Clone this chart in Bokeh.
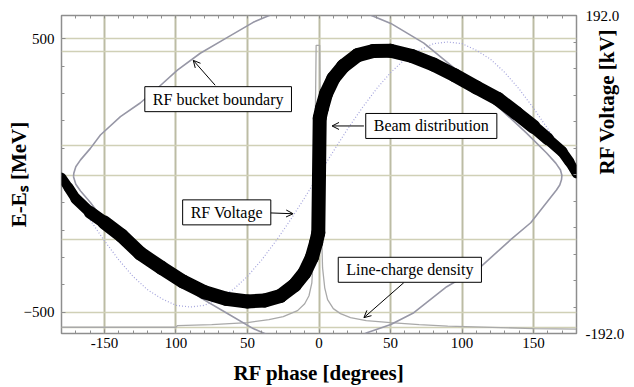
import math

from bokeh.embed import file_html
from bokeh.models import (Arrow, FixedTicker, Label, LinearAxis, OpenHead,
                          Range1d)
from bokeh.plotting import figure
from bokeh.resources import INLINE

# ---- axis ticks -------------------------------------------------------------
phase_ticks = [-150, -100, -50, 0, 50, 100, 150]
phase_tick_labels = ["-150", "100", "50", "0", "50", "100", "150"]
phase_minor = [-170, -160, -140, -130, -120, -110, -90, -80, -70, -60, -40, -30,
               -20, -10, 10, 20, 30, 40, 60, 70, 80, 90, 110, 120, 130, 140, 160, 170]
energy_ticks = [-500, 500]
energy_minor = [-400, -300, -200, -100, 100, 200, 300, 400]
energy_grid = [500, 453, 109, 0, -235, -500, -555]
voltage_ticks = [-192.0, 192.0]
voltage_minor = [-160, -128, -96, -64, -32, 0, 32, 64, 96, 128, 160]

# ---- beam distribution (centre of the particle band), deg / MeV -------------
beam_phase = [-180, -175, -170, -160, -150, -138, -125, -110, -95, -80, -65, -50,
              -38, -27, -17, -10, -5, -2, -0.5, 0, 0.5, 2, 5, 10, 17, 27, 38, 50,
              65, 80, 95, 110, 125, 138, 150, 160, 170, 175, 180]
beam_energy = [-7, -45, -85, -135, -172, -220, -285, -338, -388, -427, -451, -461,
               -457, -441, -401, -355, -300, -245, -210, 0, 210, 245, 300, 355,
               400, 440, 455, 456, 437, 406, 366, 322, 280, 228, 178, 133, 87, 50, 7]

# ---- RF bucket boundary (separatrix), deg / MeV -----------------------------
bucket_phase = [-171.6, -171.4, -170.0, -166.7, -159.8, -152.8, -138.8, -125, -113,
                -99, -83, -64, -46, -34, -20, 0, 20, 36.3, 50.2, 73.3, 96.3, 120,
                145.1, 159.1, 165.5, 168.8, 169.8, 169.5, 168.3, 166, 148, 134, 113,
                89.3, 66.3, 50.2, 33.5, 20, 0, -20, -34, -46, -64, -83, -99, -113,
                -125, -138.8, -152.8, -159.8, -166.7, -170.0, -171.4, -171.6]
bucket_energy = [-5, 8, 32, 57, 99, 148, 215, 265, 319, 385, 447, 505, 560, 587,
                 625, 650, 625, 586, 556, 484, 385, 276, 155, 82, 45, 20, 0, -16,
                 -35, -53, -173, -235, -334, -407, -502, -545, -575, -610, -640,
                 -625, -587, -560, -505, -447, -385, -319, -265, -215, -148, -99,
                 -57, -32, -8, -5]

# ---- RF voltage, deg / kV ---------------------------------------------------
rf_phase = [-180, -170, -160, -150, -140, -130, -120, -110, -100, -90, -80, -70,
            -60, -50, -40, -30, -20, -10, 0, 10, 20, 30, 40, 50, 60, 70, 80, 90,
            100, 110, 120, 130, 140, 150, 160, 170, 180]
rf_voltage = [0, -28, -55, -80, -103, -123, -139, -150, -158, -160, -158, -150,
              -139, -123, -103, -80, -55, -28, 0, 28, 55, 80, 103, 123, 139, 150,
              158, 160, 158, 150, 139, 123, 103, 80, 55, 28, 0]

# ---- line-charge density, deg / arb. units ----------------------------------
density_phase = [-180, -100, -99, -75, -50, -35, -25, -15, -10, -7, -5, -4, -3,
                 -2.5, -2, 0.5, 1, 1.5, 2.5, 4, 6, 10, 15, 22, 33, 50, 70, 90,
                 115, 150, 180]
density_value = [0.3, 0.3, 2, 3, 5, 8, 11, 17, 24, 32, 45, 70, 120, 220, 284, 284,
                 200, 110, 60, 40, 28, 19, 14, 10, 7, 5, 3, 1.5, 0.5, -1, -1.5]

SERIF = "Liberation Serif"
FRAME = "#8e8e8e"

p = figure(width=634, height=387, output_backend="svg", toolbar_location=None,
           x_range=Range1d(-180, 180), y_range=Range1d(-578, 585),
           x_axis_location=None, y_axis_location=None,
           min_border_left=61, min_border_right=57, min_border_top=15,
           min_border_bottom=53)
p.extra_y_ranges = {"kv": Range1d(-192, 192), "density": Range1d(-6, 314)}
p.background_fill_color = "white"
p.border_fill_color = "white"
p.outline_line_color = FRAME
p.outline_line_width = 1.5


def style_axis(ax):
    ax.axis_line_color = None
    ax.major_tick_in = 4
    ax.major_tick_out = 0
    ax.minor_tick_in = 3
    ax.minor_tick_out = 0
    ax.major_tick_line_color = FRAME
    ax.minor_tick_line_color = FRAME
    ax.major_label_text_font = SERIF
    ax.major_label_text_font_size = "15px"
    ax.major_label_text_color = "black"
    ax.axis_label_text_font = SERIF
    ax.axis_label_text_font_style = "bold"
    ax.axis_label_text_font_size = "21px"
    ax.axis_label_text_color = "black"


bottom = LinearAxis(ticker=FixedTicker(ticks=phase_ticks, minor_ticks=phase_minor),
                    axis_label="RF phase [degrees]")
style_axis(bottom)
bottom.major_label_overrides = dict(zip(phase_ticks, phase_tick_labels))
bottom.major_label_standoff = 4
bottom.axis_label_standoff = 10
p.add_layout(bottom, "below")

# top edge: inward ticks only
top = LinearAxis(ticker=FixedTicker(ticks=[], minor_ticks=phase_minor + phase_ticks))
style_axis(top)
top.major_label_standoff = 0
p.add_layout(top, "above")

left = LinearAxis(ticker=FixedTicker(ticks=energy_ticks, minor_ticks=energy_minor),
                  axis_label="E-E\u209b [MeV]")
style_axis(left)
left.major_label_standoff = 7
left.axis_label_standoff = -10
p.add_layout(left, "left")

# right-hand voltage axis; its title reads bottom to top
right = LinearAxis(y_range_name="kv",
                   ticker=FixedTicker(ticks=voltage_ticks, minor_ticks=voltage_minor),
                   axis_label="RF Voltage [kV]")
style_axis(right)
right.major_label_overrides = {192.0: "192.0", -192.0: "-192.0"}
right.major_label_standoff = 9
right.axis_label_standoff = -20
right.axis_label_orientation = math.pi / 2
p.add_layout(right, "right")

# grid
p.xgrid.ticker = FixedTicker(ticks=phase_ticks)
p.xgrid.grid_line_color = "#bcbca4"
p.xgrid.grid_line_width = 2
p.ygrid.ticker = FixedTicker(ticks=energy_grid)
p.ygrid.grid_line_color = "#d0d0b6"
p.ygrid.grid_line_width = 1.5

# line-charge density
p.line(density_phase, density_value, y_range_name="density",
       line_color="#a9a9a9", line_width=1.3)

# RF voltage
p.line(rf_phase, rf_voltage, y_range_name="kv", line_color="#a3a3dc",
       line_width=1.2, line_dash="1 2")

# RF bucket boundary
p.line(bucket_phase, bucket_energy, line_color="#9797a6", line_width=1.6)

# beam band: thinner near the ends of the distribution
xs, ys, widths = [], [], []
for i in range(len(beam_phase) - 1):
    xs.append(beam_phase[i:i + 2])
    ys.append(beam_energy[i:i + 2])
    a = max(abs(beam_phase[i]), abs(beam_phase[i + 1]))
    widths.append(14 if a <= 150 else 14 - (a - 150) * 0.15)
p.multi_line(xs, ys, line_color="black", line_width=widths,
             line_cap="round", line_join="round")

# annotation boxes and arrows
boxes = [
    ("RF bucket boundary", -70.5, 279, (-72.6, 330), (-87.9, 421)),
    ("Beam distribution", 78.5, 181, (31.4, 181), (9.1, 181)),
    ("RF Voltage", -64.5, -135, (-34.2, -137), (-18.1, -140)),
    ("Line-charge density", 63.5, -345, (59.3, -392), (31.4, -520)),
]
for text, bx, by, (x0, y0), (x1, y1) in boxes:
    p.add_layout(Arrow(end=OpenHead(size=7, line_width=1, line_color="black"),
                       x_start=x0, y_start=y0, x_end=x1, y_end=y1,
                       line_color="black", line_width=1))
    p.add_layout(Label(x=bx, y=by, text=text, text_font=SERIF,
                       text_font_size="16px", text_color="black",
                       text_align="center", text_baseline="middle",
                       background_fill_color="white", border_line_color="black",
                       border_line_width=1, padding=(8, 4)))

open("out.html", "w").write(file_html(p, INLINE))
